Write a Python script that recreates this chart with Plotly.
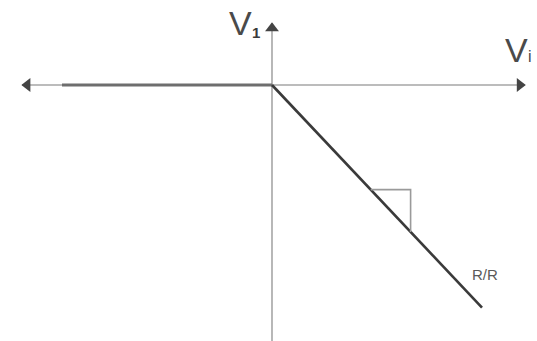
import plotly.graph_objects as go

# Transfer characteristic V1 versus Vi (arbitrary units)
vi_curve = [-10.0, 0.0, 10.0]
v1_curve = [0.0, 0.0, -10.6]

# Slope marker drawn against the sloped branch
slope_vi = [4.7, 6.6, 6.6]
slope_v1 = [-4.98, -4.98, -7.0]

# Axis extents
x_axis_ends = [-11.9, 12.05]
y_axis_ends = [-12.2, 2.95]

x_range = [-272 / 21, 265 / 21]
y_range = [-(341 - 85) / 21, 85 / 21]

AXIS_COLOR = "#a6a6a6"
FONT = "Liberation Sans, Arial, sans-serif"

fig = go.Figure()

# Horizontal axis (Vi)
fig.add_trace(go.Scatter(x=x_axis_ends, y=[0, 0], mode="lines",
                         line=dict(color=AXIS_COLOR, width=1.6), hoverinfo="skip"))
# Vertical axis (V1)
fig.add_trace(go.Scatter(x=[0, 0], y=y_axis_ends, mode="lines",
                         line=dict(color=AXIS_COLOR, width=1.6), hoverinfo="skip"))

# Arrow heads
fig.add_trace(go.Scatter(x=[x_axis_ends[0] + 0.25], y=[0], mode="markers",
                         marker=dict(symbol="triangle-left", size=12, color="#444444"),
                         hoverinfo="skip"))
fig.add_trace(go.Scatter(x=[x_axis_ends[1] - 0.25], y=[0], mode="markers",
                         marker=dict(symbol="triangle-right", size=12, color="#444444"),
                         hoverinfo="skip"))
fig.add_trace(go.Scatter(x=[0], y=[y_axis_ends[1] - 0.25], mode="markers",
                         marker=dict(symbol="triangle-up", size=12, color="#444444"),
                         hoverinfo="skip"))

# Flat branch (Vi < 0)
fig.add_trace(go.Scatter(x=vi_curve[:2], y=v1_curve[:2], mode="lines",
                         line=dict(color="#6e6e6e", width=3), hoverinfo="skip"))
# Sloped branch (Vi > 0)
fig.add_trace(go.Scatter(x=vi_curve[1:], y=v1_curve[1:], mode="lines",
                         line=dict(color="#3a3a3a", width=2.6), hoverinfo="skip"))

# Slope triangle
fig.add_trace(go.Scatter(x=slope_vi, y=slope_v1, mode="lines",
                         line=dict(color="#9a9a9a", width=1.6), hoverinfo="skip"))

annotations = [
    dict(x=-1.52, y=2.95, text="V", font=dict(size=34, color="#4a4a4a", family=FONT),
         xanchor="center", yanchor="middle"),
    dict(x=-0.74, y=2.5, text="<b>1</b>", font=dict(size=15, color="#3a3a3a", family=FONT),
         xanchor="center", yanchor="middle"),
    dict(x=11.62, y=1.67, text="V", font=dict(size=34, color="#4a4a4a", family=FONT),
         xanchor="center", yanchor="middle"),
    dict(x=12.28, y=1.35, text="i", font=dict(size=16, color="#4a4a4a", family=FONT),
         xanchor="center", yanchor="middle"),
    dict(x=10.15, y=-9.0, text="R/R", font=dict(size=15, color="#5a5a5a", family=FONT),
         xanchor="center", yanchor="middle"),
]

fig.update_layout(
    width=537, height=341,
    margin=dict(l=0, r=0, t=0, b=0),
    paper_bgcolor="white", plot_bgcolor="white",
    showlegend=False,
    xaxis=dict(range=x_range, visible=False, fixedrange=True),
    yaxis=dict(range=y_range, visible=False, fixedrange=True),
    annotations=[dict(a, showarrow=False) for a in annotations],
)

fig.write_html("out.html")
